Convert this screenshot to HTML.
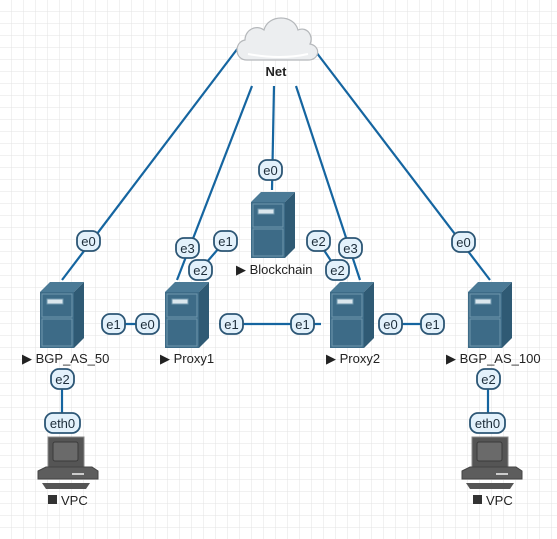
<!DOCTYPE html>
<html><head><meta charset="utf-8"><style>
html,body{margin:0;padding:0;background:#fff;}
svg{display:block;font-family:"Liberation Sans","DejaVu Sans",sans-serif;}
.l{stroke:#1565a0;stroke-width:2.2;fill:none}
.p rect{fill:#e3f1fb;stroke:#2c5675;stroke-width:1.8}
.p text{font-size:13px;fill:#1d2d3a;text-anchor:middle}
.n{font-size:13px;fill:#222}
</style></head><body>
<svg width="557" height="539" viewBox="0 0 557 539" xmlns="http://www.w3.org/2000/svg">
<defs>
<pattern id="g" width="12" height="12" patternUnits="userSpaceOnUse">
<path d="M12 0V12H0" fill="none" stroke="#e3e3e3" stroke-width="1"/>
</pattern>
<g id="srv">
<polygon points="0,10 10,0 44,0 34,10" fill="#4b7a96"/>
<polygon points="34,10 44,0 44,56 34,66" fill="#2f5a74"/>
<rect x="0" y="10" width="34" height="56" fill="#3d6b87"/>
<rect x="2" y="12" width="30" height="23" fill="none" stroke="#6f97ad" stroke-width="1"/>
<rect x="2" y="37" width="30" height="27" fill="none" stroke="#6f97ad" stroke-width="1"/>
<rect x="7" y="17" width="16" height="5" fill="#dbe7ee" stroke="#6f97ad"/>
</g>
<g id="pc">
<rect x="4" y="0" width="36" height="30" fill="#555" stroke="#888"/>
<rect x="9" y="5" width="25" height="19" rx="2" fill="#6a6a6a" stroke="#3a3a3a"/>
<polygon points="-6,34 2,30 48,30 54,34 54,42 -6,42" fill="#5d5d5d" stroke="#444"/>
<rect x="28" y="36" width="12" height="2" fill="#ccc"/>
<polygon points="-2,46 46,46 42,52 2,52" fill="#555"/>
</g>
</defs>
<rect width="557" height="539" fill="url(#g)"/>
<line class="l" x1="238" y1="48" x2="62" y2="280"/>
<line class="l" x1="252" y1="86" x2="177" y2="280"/>
<line class="l" x1="274" y1="86" x2="272" y2="190"/>
<line class="l" x1="296" y1="86" x2="360" y2="280"/>
<line class="l" x1="313" y1="48" x2="490" y2="280"/>
<line class="l" x1="200" y1="270" x2="225" y2="241"/>
<line class="l" x1="318" y1="241" x2="337" y2="270"/>
<line class="l" x1="114" y1="324" x2="148" y2="324"/>
<line class="l" x1="219" y1="324" x2="321" y2="324"/>
<line class="l" x1="391" y1="324" x2="432" y2="324"/>
<line class="l" x1="62" y1="379" x2="62" y2="424"/>
<line class="l" x1="488" y1="379" x2="488" y2="424"/>
<path d="M247,60 C234,60 234,42 245,40 C245,30 256,24 264,30 C268,14 294,14 298,30 C307,26 314,36 310,44 C321,46 320,60 308,60 Z" fill="#eceef0" stroke="#b5b8bb" stroke-width="1.2"/>
<path d="M248,54 C270,58 290,58 308,54" stroke="#fff" stroke-width="2" fill="none"/>
<text x="276" y="76" class="n" text-anchor="middle" font-weight="bold" fill="#333">Net</text>
<use href="#srv" x="40" y="282"/>
<use href="#srv" x="165" y="282"/>
<use href="#srv" x="251" y="192"/>
<use href="#srv" x="330" y="282"/>
<use href="#srv" x="468" y="282"/>
<use href="#pc" x="44" y="437"/>
<use href="#pc" x="468" y="437"/>
<text class="n" x="22" y="363">▶ BGP_AS_50</text>
<text class="n" x="160" y="363">▶ Proxy1</text>
<text class="n" x="236" y="274">▶ Blockchain</text>
<text class="n" x="326" y="363">▶ Proxy2</text>
<text class="n" x="446" y="363">▶ BGP_AS_100</text>
<rect x="48" y="495" width="9" height="9" fill="#333"/>
<text class="n" x="61" y="505">VPC</text>
<rect x="473" y="495" width="9" height="9" fill="#333"/>
<text class="n" x="486" y="505">VPC</text>
<g class="p">
<rect x="77" y="231" width="23" height="20" rx="8"/><text x="88.5" y="246">e0</text>
<rect x="176" y="238" width="23" height="20" rx="8"/><text x="187.5" y="253">e3</text>
<rect x="214" y="231" width="23" height="20" rx="8"/><text x="225.5" y="246">e1</text>
<rect x="189" y="260" width="23" height="20" rx="8"/><text x="200.5" y="275">e2</text>
<rect x="259" y="160" width="23" height="20" rx="8"/><text x="270.5" y="175">e0</text>
<rect x="307" y="231" width="23" height="20" rx="8"/><text x="318.5" y="246">e2</text>
<rect x="339" y="238" width="23" height="20" rx="8"/><text x="350.5" y="253">e3</text>
<rect x="326" y="260" width="23" height="20" rx="8"/><text x="337.5" y="275">e2</text>
<rect x="452" y="232" width="23" height="20" rx="8"/><text x="463.5" y="247">e0</text>
<rect x="102" y="314" width="23" height="20" rx="8"/><text x="113.5" y="329">e1</text>
<rect x="136" y="314" width="23" height="20" rx="8"/><text x="147.5" y="329">e0</text>
<rect x="220" y="314" width="23" height="20" rx="8"/><text x="231.5" y="329">e1</text>
<rect x="291" y="314" width="23" height="20" rx="8"/><text x="302.5" y="329">e1</text>
<rect x="379" y="314" width="23" height="20" rx="8"/><text x="390.5" y="329">e0</text>
<rect x="421" y="314" width="23" height="20" rx="8"/><text x="432.5" y="329">e1</text>
<rect x="51" y="369" width="23" height="20" rx="8"/><text x="62.5" y="384">e2</text>
<rect x="477" y="369" width="23" height="20" rx="8"/><text x="488.5" y="384">e2</text>
<rect x="45" y="413" width="35" height="20" rx="8"/><text x="62.5" y="428">eth0</text>
<rect x="470" y="413" width="35" height="20" rx="8"/><text x="487.5" y="428">eth0</text>
</g>
</svg>
</body></html>
